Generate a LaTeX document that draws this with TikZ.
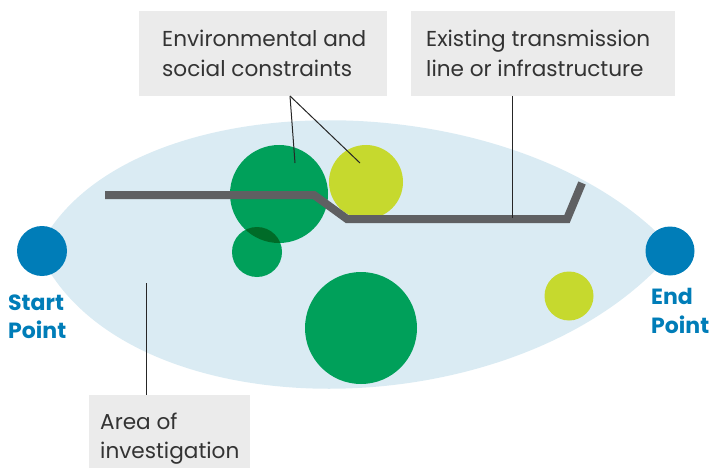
\documentclass[tikz,border=0pt]{standalone}
\usepackage{fontspec}
\setmainfont{Poppins}
\definecolor{lens}{RGB}{218,235,243}
\definecolor{ptblue}{RGB}{0,125,184}
\definecolor{grn}{RGB}{0,160,90}
\definecolor{dgrn}{RGB}{0,107,40}
\definecolor{ylw}{RGB}{198,217,46}
\definecolor{lineg}{RGB}{95,96,98}
\definecolor{boxg}{RGB}{235,235,235}
\definecolor{txt}{RGB}{51,51,51}
\tikzset{
  dot/.style={circle, inner sep=0pt, minimum size=#1},
  lblbox/.style={fill=boxg, inner sep=0pt, anchor=north west},
  lbl/.style={anchor=base west, inner sep=0pt, text=txt, font=\fontsize{21.6}{26}\selectfont},
  ptlbl/.style={anchor=base west, inner sep=0pt, text=ptblue, font=\fontsize{22}{26}\selectfont\bfseries},
  leader/.style={draw=black!85, line width=1pt},
  route/.style={draw=lineg, line width=8pt, line join=miter}
}
\begin{document}
\begin{tikzpicture}[x=1pt,y=-1pt]
\useasboundingbox (0,0) rectangle (712,468);
% area of investigation
\fill[lens] (38,250) .. controls (120,77) and (520,77) .. (674,250)
            .. controls (520,435) and (120,435) .. (38,250) -- cycle;
% constraints
\node[dot=50pt, fill=grn] (g2) at (257,252) {};
\node[dot=98pt, fill=grn] (g1) at (279,194) {};
\begin{scope}
  \clip (g1.center) circle (49pt);
  \fill[dgrn] (g2.center) circle (25pt);
\end{scope}
\node[dot=74pt, fill=ylw] (y1) at (366,182) {};
\node[dot=112pt, fill=grn] (g3) at (361,328) {};
\node[dot=49pt, fill=ylw] (y2) at (569,296) {};
% start / end
\node[dot=50pt, fill=ptblue] (start) at (42,251) {};
\node[dot=49pt, fill=ptblue] (end) at (670,251) {};
% existing line
\coordinate (r0) at (105,195);
\coordinate (r1) at (314,195);
\coordinate (r2) at (347,219);
\coordinate (r3) at (567,219);
\coordinate (r4) at (582,183);
\path[route] (r0) -- (r1) -- (r2) -- (r3) -- (r4);
% label boxes
\node[lblbox, minimum width=248pt, minimum height=85pt] (envbox) at (139,11) {};
\node[lblbox, minimum width=264pt, minimum height=85pt] (exbox) at (411,11) {};
\node[lblbox, minimum width=161pt, minimum height=80pt] (areabox) at (89,395) {};
\node[lbl] (env1) at (162,47) {Environmental and};
\node[lbl] (env2) at (162,77) {social constraints};
\node[lbl] (ex1) at (426,47) {Existing transmission};
\node[lbl] (ex2) at (426,77) {line or infrastructure};
\node[lbl] (ar1) at (100,429) {Area of};
\node[lbl] (ar2) at (100,458) {investigation};
\node[ptlbl] (st1) at (8,310) {Start};
\node[ptlbl] (st2) at (8,338) {Point};
\node[ptlbl] (en1) at (651,304) {End};
\node[ptlbl] (en2) at (651,333) {Point};
% leaders
\coordinate (envtip) at (290,96);
\coordinate (g1tip) at (295,163);
\coordinate (y1tip) at (360,163);
\coordinate (extip) at (512,96);
\coordinate (rtip) at (512,218);
\coordinate (areatip) at (146,283);
\draw[leader] (envtip) -- (g1tip);
\draw[leader] (envtip) -- (y1tip);
\draw[leader] (extip) -- (rtip);
\draw[leader] (areatip) -- (areabox.north -| areatip);
\end{tikzpicture}
\end{document}
